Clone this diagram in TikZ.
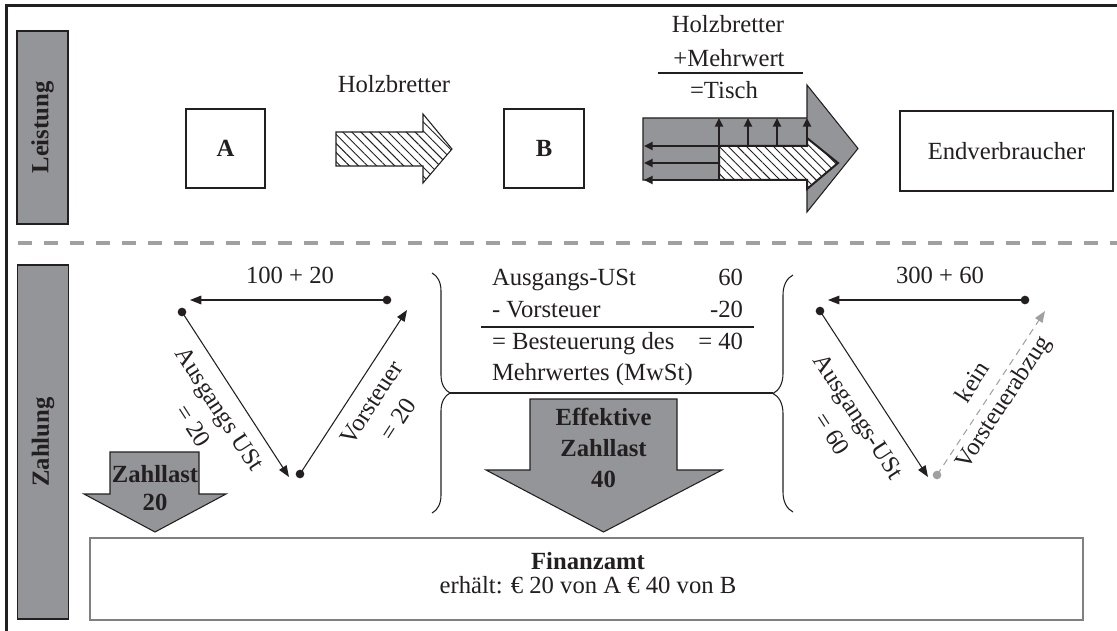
\documentclass[tikz,border=0pt]{standalone}
\usepackage{fontspec}
\setmainfont{Liberation Serif}
\usetikzlibrary{arrows.meta,patterns.meta,decorations.pathreplacing}
\definecolor{grayfill}{RGB}{147,149,152}
\definecolor{ink}{RGB}{35,31,32}
\definecolor{dashgray}{RGB}{160,160,160}
\definecolor{boxgray}{RGB}{128,128,128}
\begin{document}
\begin{tikzpicture}[x=0.75pt,y=-0.75pt,
  every node/.style={text=ink,font=\fontsize{18.5}{24}\selectfont,inner sep=0pt,outer sep=0pt},
  bf/.style={font=\fontsize{18.5}{24}\selectfont\bfseries},
  lbl/.style={draw=ink,line width=0.9pt,fill=grayfill,font=\fontsize{18.5}{24}\selectfont\bfseries,rotate=90,minimum height=38.25pt},
  wbox/.style={draw=ink,line width=0.9pt,fill=white},
  tdot/.style={circle,fill=ink,minimum size=6.5pt},
  gdot/.style={circle,fill=dashgray,minimum size=6.5pt},
  triedge/.style={draw=ink,line width=0.8pt,-{Triangle[length=8.5pt,width=6.5pt]}},
  block/.style={draw=ink,line width=0.8pt,fill=grayfill},
  hatch/.style={pattern={Lines[angle=-45,distance=4.8pt,line width=0.7pt]},pattern color=ink},
  thickarr/.style={draw=ink,line width=1.7pt,-{Triangle[length=6.5pt,width=6pt]}},
  bracestyle/.style={draw=ink,line width=0.8pt,decorate},
  rotlab/.style={align=center}
]
\useasboundingbox (0,0) rectangle (1117,631);

% frame and separator
\draw[ink,line width=2.25pt,line join=miter] (6,631) -- (6,6) -- (1117,6);
\draw[dashgray,line width=3.4pt,dash pattern=on 10.5pt off 9pt] (18,243) -- (1117,243);

% side labels
\node[lbl,minimum width=144.75pt] (leistung) at (42.5,127.5) {Leistung};
\node[lbl,minimum width=265.5pt] (zahlung) at (43,442) {Zahlung};

% top row
\node[wbox,bf,minimum width=59.25pt,minimum height=59.25pt] (A) at (225.5,148.5) {A};
\node[wbox,bf,minimum width=60pt,minimum height=59.25pt] (B) at (544,148.5) {B};
\node[wbox,minimum width=159.75pt,minimum height=60pt] (endv) at (1006.5,151) {Endverbraucher};

\draw[draw=ink,line width=0.8pt,preaction={fill=white},hatch]
  (336,132) -- (423,132) -- (423,114) -- (452,149) -- (423,183) -- (423,166) -- (336,166) -- cycle;
\node[anchor=base] (holz1) at (394,93) {Holzbretter};

\draw[block] (643,118) -- (807,118) -- (807,85) -- (858,148.5) -- (807,212) -- (807,180) -- (643,180) -- cycle;
\draw[draw=ink,line width=1.5pt,preaction={fill=white},hatch]
  (719,146) -- (807,146) -- (807,138) -- (838,163) -- (807,189) -- (807,180) -- (719,180) -- cycle;
\draw[thickarr] (807,146) -- (644,146);
\draw[thickarr] (719,163) -- (644,163);
\draw[thickarr] (719,180) -- (644,180);
\draw[thickarr] (719,146) -- (719,118);
\draw[thickarr] (748,146) -- (748,118);
\draw[thickarr] (777,146) -- (777,118);
\draw[thickarr] (807,146) -- (807,118);

\node[anchor=base] (holz2) at (728,33) {Holzbretter};
\node[anchor=base] (mehr) at (729,67) {+Mehrwert};
\node[anchor=base] (tisch) at (724,99) {=Tisch};
\coordinate (sumL) at (658,73);
\coordinate (sumR) at (803,73);
\draw[ink,line width=0.8pt] (sumL) -- (sumR);

% triangle 1
\node[tdot] (L1) at (182,312) {};
\node[tdot] (R1) at (387,300) {};
\node[tdot] (B1) at (300,474) {};
\coordinate (T1a) at (190,300);
\coordinate (T1b) at (289,477);
\coordinate (T1c) at (407,310);
\draw[triedge] (R1.center) -- (T1a);
\draw[triedge] (L1.center) -- (T1b);
\draw[triedge] (B1.center) -- (T1c);
\node[anchor=base] (p1) at (290,283) {100 + 20};
\node[rotlab,rotate=-57] (lab1) at (206.5,417.5) {Ausgangs USt\\= 20};
\node[rotlab,rotate=57] (lab2) at (385,411) {Vorsteuer\\= 20};

% triangle 2
\node[tdot] (L2) at (820,311) {};
\node[tdot] (R2) at (1025,300) {};
\node[gdot] (B2) at (937,475) {};
\coordinate (T2a) at (828,300);
\coordinate (T2b) at (928,477);
\coordinate (T2c) at (1045,311);
\draw[triedge] (R2.center) -- (T2a);
\draw[triedge] (L2.center) -- (T2b);
\draw[dashgray,line width=0.8pt,dash pattern=on 5pt off 4pt,-{Triangle[length=8.5pt,width=6.5pt]}] (B2.center) -- (T2c);
\node[anchor=base] (p2) at (940,283) {300 + 60};
\node[rotlab,rotate=-57] (lab3) at (845.5,425) {Ausgangs-USt\\= 60};
\node[rotlab,rotate=57] (lab4) at (989,393) {kein\\[3pt]Vorsteuerabzug};

% braces and middle table
\draw[bracestyle,decoration={brace,amplitude=13.5pt}] (432,273) -- (432,513);
\draw[bracestyle,decoration={brace,amplitude=15pt}] (793,512) -- (793,275);
\coordinate (bl) at (450,393);
\coordinate (br) at (773,393);
\draw[ink,line width=0.8pt] (bl) -- (br);

\node[anchor=base west] (t1) at (492,285) {Ausgangs-USt};
\node[anchor=base east] (v1) at (743,285) {60};
\node[anchor=base west] (t2) at (492,317) {- Vorsteuer};
\node[anchor=base east] (v2) at (743,317) {-20};
\coordinate (tl) at (481,327);
\coordinate (tr) at (754,327);
\draw[ink,line width=0.8pt] (tl) -- (tr);
\node[anchor=base west] (t3) at (492,349) {= Besteuerung des};
\node[anchor=base east] (v3) at (743,349) {= 40};
\node[anchor=base west] (t4) at (492,380) {Mehrwertes (MwSt)};

% payment arrows
\draw[block] (110,452) -- (199,452) -- (199,494) -- (226,494) -- (155,532) -- (84,494) -- (110,494) -- cycle;
\node[bf,anchor=base] (z1) at (155,482) {Zahllast};
\node[bf,anchor=base] (z2) at (155,510) {20};

\draw[block] (530,399) -- (677,399) -- (677,470) -- (722,470) -- (603.5,532) -- (486,470) -- (530,470) -- cycle;
\node[bf,anchor=base] (e1) at (603.5,425) {Effektive};
\node[bf,anchor=base] (e2) at (603.5,456) {Zahllast};
\node[bf,anchor=base] (e3) at (603.5,487) {40};

% Finanzamt
\node[draw=boxgray,line width=1.4pt,fill=white,minimum width=744.75pt,minimum height=61.5pt] (fa) at (586.5,579) {};
\node[bf,anchor=base] (fa1) at (588,569) {Finanzamt};
\node[anchor=base] (fa2) at (588,593) {erhält: € 20 von A € 40 von B};
\end{tikzpicture}
\end{document}
